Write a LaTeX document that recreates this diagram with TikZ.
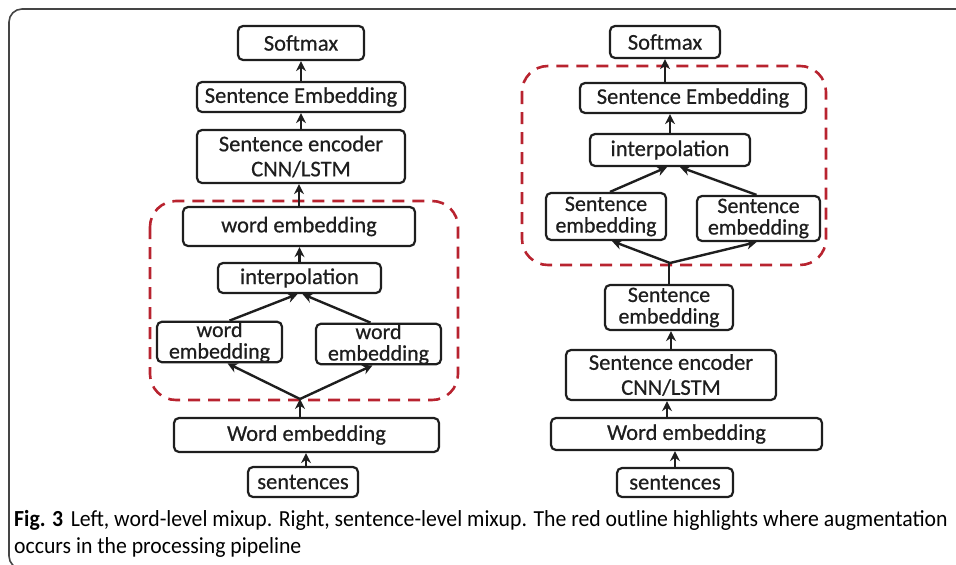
\documentclass[tikz,border=0pt]{standalone}
\usepackage{fontspec}
\setmainfont{Carlito}[FakeBold=0.6]
\newfontfamily\capfont{Carlito}
\usetikzlibrary{arrows.meta,calc}
\definecolor{boxline}{HTML}{1E1E1E}
\definecolor{redline}{HTML}{B8232F}
\definecolor{framec}{HTML}{454545}
\tikzset{
  bx/.style={draw=boxline,line width=2.2pt,rounded corners=5pt,inner sep=0pt,align=center,
    font=\fontsize{22.5}{25}\selectfont,text=boxline},
  twol/.style={font=\fontsize{22}{21.5}\selectfont},
  ar/.style={draw=boxline,line width=2.4pt,-{Stealth[length=10pt,width=10pt]}},
  ln/.style={draw=boxline,line width=2.4pt},
  redbox/.style={draw=redline,line width=2.6pt,dash pattern=on 12pt off 8pt,rounded corners=26pt},
}
\begin{document}
\begin{tikzpicture}[x=1pt,y=-1pt]
\useasboundingbox (0,0) rectangle (956,565);
% outer frame
\draw[framec,line width=1.6pt,rounded corners=13pt] (960,9) -- (9,9) -- (9,569) -- (40,569);
% ---------- left diagram ----------
\draw[redbox] (150,201) rectangle (458,400);
\node[bx,minimum width=126pt,minimum height=34pt] (sm1) at (301,43) {Softmax};
\node[bx,minimum width=208pt,minimum height=30pt] (se1) at (301,97) {Sentence Embedding};
\node[bx,minimum width=208pt,minimum height=53pt] (enc1) at (301,156.5) {Sentence encoder\\CNN/LSTM};
\node[bx,minimum width=232pt,minimum height=39pt] (wt1) at (299,226.5) {word embedding};
\node[bx,minimum width=163pt,minimum height=30pt] (int1) at (299.5,278) {interpolation};
\node[bx,twol,minimum width=125pt,minimum height=38pt] (wel) at (219.5,342) {word\\embedding};
\node[bx,twol,minimum width=125pt,minimum height=36pt] (wer) at (378.5,344) {word\\embedding};
\node[bx,minimum width=265pt,minimum height=34pt] (wemb1) at (306.5,435) {Word embedding};
\node[bx,minimum width=110pt,minimum height=30pt] (sent1) at (303,482) {sentences};
\coordinate (j1) at (300,399);
\draw[ar] ([xshift=3pt]sent1.north) -- ([xshift=3pt]sent1.north |- wemb1.south);
\draw[ar] (j1 |- wemb1.north) -- (j1);
\draw[ar] (j1) -- ([xshift=8pt]wel.south);
\draw[ar] (j1) -- ([xshift=-6pt]wer.south);
\draw[ar] ([xshift=10pt]wel.north) -- ([xshift=-2pt]int1.south);
\draw[ar] ([xshift=-8pt]wer.north) -- ([xshift=3pt]int1.south);
\draw[ar] (int1.north) -- (int1.north |- wt1.south);
\draw[ar] (wt1.north) -- (wt1.north |- enc1.south);
\draw[ar] (enc1.north) -- (se1.south);
\draw[ar] (se1.north) -- (sm1.south);
% ---------- right diagram ----------
\draw[redbox] (522,66) rectangle (826,265);
\node[bx,minimum width=110pt,minimum height=32pt] (sm2) at (665,42) {Softmax};
\node[bx,minimum width=226pt,minimum height=30pt] (se2) at (693,98) {Sentence Embedding};
\node[bx,minimum width=160pt,minimum height=32pt] (int2) at (670,150) {interpolation};
\node[bx,twol,minimum width=120pt,minimum height=47pt] (sel) at (606,216.5) {Sentence\\embedding};
\node[bx,twol,minimum width=123pt,minimum height=45pt] (ser) at (758.5,218.5) {Sentence\\embedding};
\node[bx,twol,minimum width=128pt,minimum height=45pt] (sem) at (669,307.5) {Sentence\\embedding};
\node[bx,minimum width=210pt,minimum height=50pt] (enc2) at (671,375) {Sentence encoder\\CNN/LSTM};
\node[bx,minimum width=271pt,minimum height=32pt] (wemb2) at (686.5,434) {Word embedding};
\node[bx,minimum width=116pt,minimum height=29pt] (sent2) at (675,482.5) {sentences};
\coordinate (j2) at (670,263);
\draw[ar] (sent2.north) -- (sent2.north |- wemb2.south);
\draw[ar] ([xshift=-4pt]wemb2.north -| enc2.south) -- ([xshift=-4pt]enc2.south);
\draw[ar] (enc2.north) -- (enc2.north |- sem.south);
\draw[ln] (sem.north) -- (sem.north |- j2);
\draw[ar] (j2) -- ([xshift=6pt]sel.south);
\draw[ar] (j2) -- ([xshift=-2pt]ser.south);
\draw[ar] ([xshift=4pt]sel.north) -- ([xshift=-3pt]int2.south);
\draw[ar] ([xshift=-2pt]ser.north) -- ([xshift=10pt]int2.south);
\draw[ar] (int2.north) -- (int2.north |- se2.south);
\draw[ar] (sm2.south |- se2.north) -- (sm2.south);
% ---------- caption ----------
\node[anchor=base west,inner sep=0pt,font=\capfont\fontsize{23}{27}\selectfont,text=black] (cap1) at (14,526)
  {\scalebox{0.945}[1]{\textbf{Fig. 3}\hspace{8pt}Left, word-level mixup. Right, sentence-level mixup. The red outline highlights where augmentation}};
\node[anchor=base west,inner sep=0pt,font=\capfont\fontsize{23}{27}\selectfont,text=black] (cap2) at (14,553)
  {\scalebox{0.945}[1]{occurs in the processing pipeline}};
\end{tikzpicture}
\end{document}
